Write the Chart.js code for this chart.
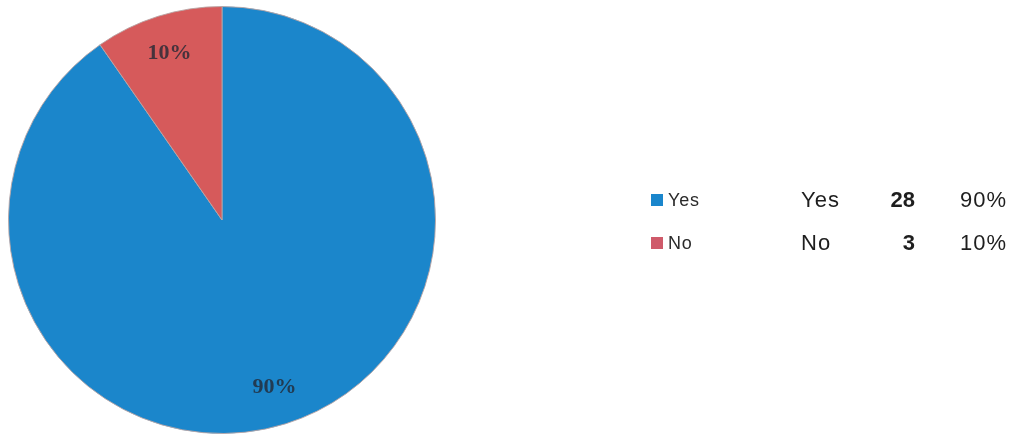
<!DOCTYPE html>
<html>
<head>
<meta charset="utf-8">
<title>Yes / No</title>
<script src="https://cdn.jsdelivr.net/npm/chart.js@4.4.1/dist/chart.umd.min.js"></script>
<style>
  body { margin: 0; background: #fff; width: 1014px; height: 434px; overflow: hidden; position: relative; }
  #pie { position: absolute; left: 0; top: 0; }
  .row { position: absolute; left: 0; height: 24px; line-height: 24px; font-family: "Liberation Sans", Arial, sans-serif; }
  .swatch { position: absolute; left: 651px; top: 6px; width: 12px; height: 12px; }
  .key { position: absolute; left: 668px; font-size: 18px; letter-spacing: 0.8px; color: #2a2a2a; }
  .name { position: absolute; left: 801px; font-size: 22px; letter-spacing: 1px; color: #1e1e1e; }
  .count { position: absolute; right: 99px; width: 60px; text-align: right; font-size: 22px; font-weight: bold; color: #1e1e1e; }
  .pct { position: absolute; left: 960px; font-size: 22px; letter-spacing: 1px; color: #1e1e1e; }
</style>
</head>
<body>
<canvas id="pie" width="444" height="434"></canvas>
<div id="legend"></div>
<script>
var answers = ['Yes', 'No'];
var answerCounts = [28, 3];
var sliceColors = ['#1b86cb', '#d65a5b'];
var swatchColors = ['#1a86cc', '#cf5a6a'];
var rowCenters = [200, 243];

var total = answerCounts.reduce(function(a, b) { return a + b; }, 0);
function pctText(i) {
    return Math.round(answerCounts[i] / total * 100) + '%';
}

// percentage written inside each slice
var sliceLabels = {
    id: 'sliceLabels',
    afterDatasetsDraw: function(chart) {
        var ctx = chart.ctx;
        var meta = chart.getDatasetMeta(0);
        ctx.save();
        ctx.font = 'bold 22px "Liberation Serif", "DejaVu Serif", serif';
        ctx.fillStyle = 'rgba(35, 40, 52, 0.8)';
        ctx.textAlign = 'center';
        ctx.textBaseline = 'middle';
        meta.data.forEach(function(arc, i) {
            var p = arc.getProps(['x', 'y', 'startAngle', 'endAngle', 'outerRadius']);
            var mid = (p.startAngle + p.endAngle) / 2;
            var r = p.outerRadius * 0.82;
            ctx.fillText(pctText(i), p.x + Math.cos(mid) * r, p.y + Math.sin(mid) * r);
        });
        ctx.restore();
    }
};

var pieChart = new Chart(document.getElementById('pie'), {
    type: 'pie',
    data: {
        labels: answers,
        datasets: [{
            data: answerCounts,
            backgroundColor: sliceColors,
            borderColor: 'rgba(185, 165, 165, 0.9)',
            borderWidth: 1
        }]
    },
    options: {
        responsive: false,
        animation: false,
        layout: { padding: { left: 8, right: 8, top: 6, bottom: 0 } },
        plugins: {
            legend: { display: false },
            tooltip: { enabled: false }
        }
    },
    plugins: [sliceLabels]
});

// legend keys plus the count / percent table beside them
var legend = document.getElementById('legend');
answers.forEach(function(name, i) {
    var row = document.createElement('div');
    row.className = 'row';
    row.style.top = (rowCenters[i] - 12) + 'px';
    row.style.width = '1014px';
    row.innerHTML =
        '<span class="swatch" style="background:' + swatchColors[i] + '"></span>' +
        '<span class="key">' + name + '</span>' +
        '<span class="name">' + name + '</span>' +
        '<span class="count">' + answerCounts[i] + '</span>' +
        '<span class="pct">' + pctText(i) + '</span>';
    legend.appendChild(row);
});
</script>
</body>
</html>
